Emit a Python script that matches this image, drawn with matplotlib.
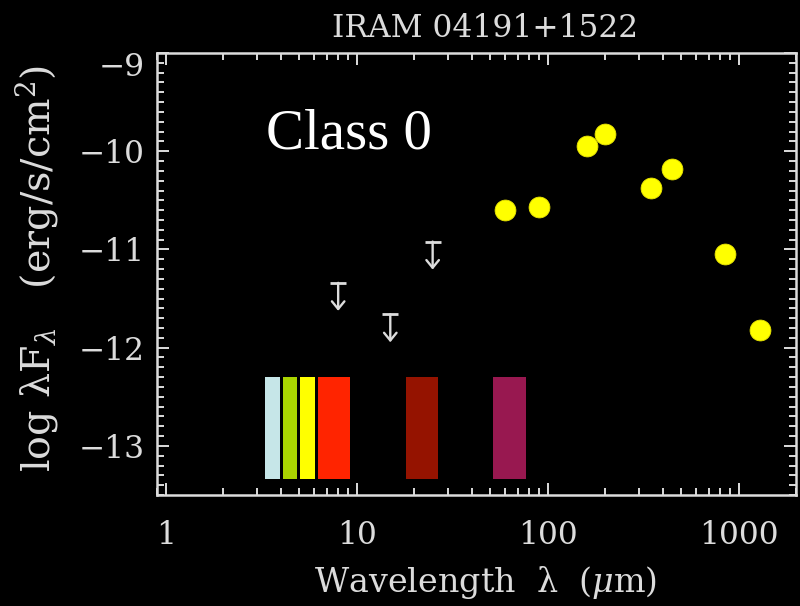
import matplotlib
matplotlib.use("Agg")
import matplotlib.pyplot as plt
from matplotlib.ticker import FixedLocator, LogLocator, NullFormatter, FixedFormatter
import numpy as np

# Detected photometry (wavelength in micron, log lambda F_lambda in erg/s/cm^2)
det_wave = [60, 90, 160, 200, 350, 450, 850, 1300]
det_flux = [-10.60, -10.57, -9.95, -9.82, -10.37, -10.18, -11.05, -11.82]

# Upper limits
ul_wave = [8, 15, 25]
ul_flux = [-11.34, -11.66, -10.92]

# Instrument bands: edges in micron and fill colours
band_lo = [3.32, 4.10, 5.06, 6.28, 18.1, 52.0]
band_hi = [3.95, 4.88, 6.03, 9.23, 26.7, 76.9]
band_colors = ["#C6E6E8", "#AAD400", "#FFFF00", "#FF2400", "#951300", "#981850"]
band_bottom = -13.34
band_top = -12.30

x_major = [1, 10, 100, 1000]
x_labels = ["1", "10", "100", "1000"]
y_major = [-13, -12, -11, -10, -9]
y_labels = ["\u221213", "\u221212", "\u221211", "\u221210", ""]

fg = "#DCDCDC"
serif = "DejaVu Serif"
plt.rcParams["mathtext.fontset"] = "dejavuserif"

fig = plt.figure(figsize=(8.0, 6.06), dpi=100, facecolor="black")
ax = fig.add_axes([157 / 800, 111 / 606, 639 / 800, 442 / 606], facecolor="black")
ax.set_xscale("log")
ax.set_xlim(0.9, 2000)
ax.set_ylim(-13.5, -9.0)

# Band rectangles
ax.bar(band_lo, band_top - band_bottom, width=np.array(band_hi) - np.array(band_lo),
       bottom=band_bottom, align="edge", color=band_colors, linewidth=0, zorder=2)

# Detections
ax.plot(det_wave, det_flux, ls="none", marker="o", ms=15, mfc="#FFFF00",
        mec="#E8E400", mew=0.6, zorder=4)

# Upper limits: bar plus downward arrow
ax.plot(ul_wave, ul_flux, ls="none", marker="_", ms=11, mew=2.0, color=fg, zorder=3)
for w, f in zip(ul_wave, ul_flux):
    ax.annotate("", xy=(w, f), xycoords="data", xytext=(0, -28),
                textcoords="offset pixels",
                arrowprops=dict(arrowstyle="<-, head_length=0.55, head_width=0.45",
                                color=fg, lw=1.7, shrinkA=0, shrinkB=0),
                zorder=3)

# Frame and ticks
for s in ax.spines.values():
    s.set_color(fg)
    s.set_linewidth(1.8)
ax.xaxis.set_major_locator(FixedLocator(x_major))
ax.xaxis.set_major_formatter(FixedFormatter(x_labels))
ax.xaxis.set_minor_locator(LogLocator(base=10, subs=np.arange(2, 10)))
ax.xaxis.set_minor_formatter(NullFormatter())
ax.yaxis.set_major_locator(FixedLocator(y_major))
ax.yaxis.set_major_formatter(FixedFormatter(y_labels))
ax.yaxis.set_minor_locator(FixedLocator(np.round(np.arange(-13.5, -9.0, 0.1), 2)))
ax.tick_params(which="both", direction="in", top=True, right=True, color=fg,
               labelcolor=fg)
ax.tick_params(which="major", length=8.6, width=1.4)
ax.tick_params(which="minor", length=5.0, width=1.4)
ax.tick_params(axis="x", which="major", pad=18, labelsize=22.5)
ax.tick_params(axis="y", which="major", pad=9, labelsize=22.5)
for lab in ax.get_xticklabels() + ax.get_yticklabels():
    lab.set_family(serif)

# Top y label sits lower than its tick
fig.text(145 / 800, 1 - 67 / 606, "\u22129", color=fg, family=serif, fontsize=22.5,
         ha="right", va="center")

fig.text(485 / 800, 1 - 37 / 606, "IRAM 04191+1522", color=fg, family=serif,
         fontsize=22.5, ha="center", va="baseline")
fig.text(486 / 800, 14 / 606, r"Wavelength  λ  ($\mu$m)", color=fg, family=serif,
         fontsize=24, ha="center", va="baseline")
fig.text(37 / 800, 1 - 268 / 606, r"log λF$_{λ}$   (erg/s/cm$^2$)", color=fg,
         family=serif, fontsize=28.5, ha="center", va="center", rotation=90)

fig.text(266 / 800, 1 - 148 / 606, "Class 0", color="white",
         family="Liberation Serif", fontsize=41, ha="left", va="baseline")

fig.savefig("out.png", dpi=100, facecolor="black")
